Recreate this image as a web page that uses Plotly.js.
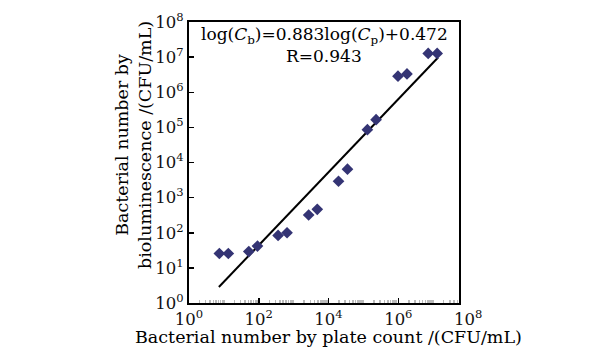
<!DOCTYPE html>
<html>
<head>
<meta charset="utf-8">
<script src="https://cdn.plot.ly/plotly-3.0.1.min.js"></script>
<style>html,body{margin:0;padding:0;background:#fff;}#chart{width:616px;height:349px;}</style>
</head>
<body>
<div id="chart"></div>
<script>
// Plate count (CFU/mL) vs bioluminescence count (CFU/mL)
var plateCount = [7.41, 13.4, 51.8, 91.8, 358, 647, 2692, 4753, 19320, 34910, 130000, 230700, 979000, 1774000, 7194000, 13000000];
var biolumCount = [25.7, 25.7, 29.2, 41.7, 83.8, 100, 320.6, 463.5, 2924, 6442, 85900, 166000, 2864000, 3334000, 12760000, 12760000];
// fitted line end points as drawn
var fitX = [7.19, 13800000];
var fitY = [2.86, 9770000];
var xTickVals = [1, 100, 10000, 1000000];
var xTickText = ['10<sup>0</sup>', '10<sup>2</sup>', '10<sup>4</sup>', '10<sup>6</sup>'];
var yTickVals = [1, 10, 100, 1000, 10000, 100000, 1000000, 10000000, 100000000];
var yTickText = ['10<sup>0</sup>', '10<sup>1</sup>', '10<sup>2</sup>', '10<sup>3</sup>', '10<sup>4</sup>', '10<sup>5</sup>', '10<sup>6</sup>', '10<sup>7</sup>', '10<sup>8</sup>'];
var extraXLabel = '10<sup>8</sup>';
var equationText = 'log(<i>C</i><sub>b</sub>)=0.883log(<i>C</i><sub>p</sub>)+0.472';
var rText = 'R=0.943';
var xTitle = 'Bacterial number by plate count /(CFU/mL)';
var yTitle = 'Bacterial number by<br>bioluminescence /(CFU/mL)';

var serif = 'DejaVu Serif, serif';
var traces = [
  {x: fitX, y: fitY, type: 'scatter', mode: 'lines', line: {color: '#000', width: 2}, hoverinfo: 'skip'},
  {x: plateCount, y: biolumCount, type: 'scatter', mode: 'markers',
   marker: {symbol: 'diamond', size: 9, color: '#343474'}}
];
var layout = {
  width: 616, height: 349,
  margin: {l: 189, r: 157, t: 22, b: 46},
  paper_bgcolor: '#fff', plot_bgcolor: '#fff',
  showlegend: false,
  font: {family: serif, color: '#111', size: 16},
  xaxis: {type: 'log', range: [0, 7.74], tickvals: xTickVals, ticktext: xTickText,
    ticks: 'inside', ticklen: 5, tickwidth: 1.5, tickcolor: '#000',
    showline: true, linewidth: 2, linecolor: '#000', mirror: true,
    showgrid: false, zeroline: false, tickfont: {family: serif, size: 16.5, color: '#111'},
    minor: {dtick: 'D1', ticks: 'inside', ticklen: 3, tickcolor: '#bbb', showgrid: false}},
  yaxis: {type: 'log', range: [0, 8], tickvals: yTickVals, ticktext: yTickText,
    ticks: 'inside', ticklen: 5, tickwidth: 1.5, tickcolor: '#000',
    showline: true, linewidth: 2, linecolor: '#000', mirror: true,
    showgrid: false, zeroline: false, tickfont: {family: serif, size: 16.5, color: '#111'}},
  annotations: [
    {xref: 'paper', yref: 'paper', x: 8 / 7.74, y: 0, yshift: -2, xanchor: 'center', yanchor: 'top',
     text: extraXLabel, showarrow: false, font: {family: serif, size: 16.5, color: '#111'}},
    {xref: 'paper', yref: 'paper', x: 0.5, y: 1, yshift: 0, xanchor: 'center', yanchor: 'top',
     text: equationText, showarrow: false, font: {family: serif, size: 17, color: '#000'}},
    {xref: 'paper', yref: 'paper', x: 0.5, y: 1, yshift: -22, xanchor: 'center', yanchor: 'top',
     text: rText, showarrow: false, font: {family: serif, size: 17, color: '#000'}},
    {xref: 'paper', yref: 'paper', x: (328 - 189) / 270, y: 0, yshift: -22, xanchor: 'center', yanchor: 'top',
     text: xTitle, showarrow: false, font: {family: serif, size: 17.5, color: '#000'}},
    {xref: 'paper', yref: 'paper', x: 0, xshift: -56, y: (303 - 145) / 281, xanchor: 'center', yanchor: 'middle',
     text: yTitle, textangle: -90, showarrow: false, font: {family: serif, size: 17.5, color: '#000'}}
  ]
};
Plotly.newPlot('chart', traces, layout, {displayModeBar: false, staticPlot: true});
</script>
</body>
</html>
